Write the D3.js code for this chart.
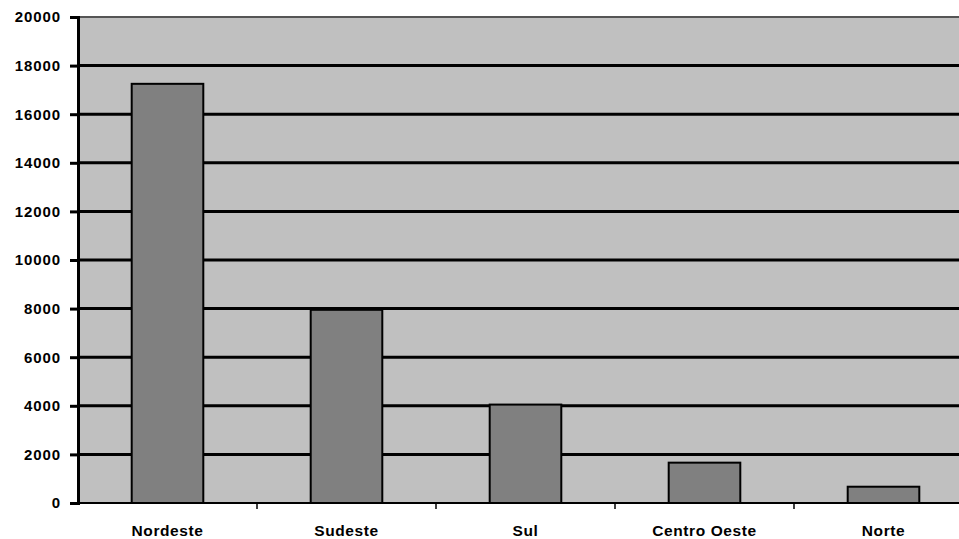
<!DOCTYPE html>
<html>
<head>
<meta charset="utf-8">
<script src="https://cdn.jsdelivr.net/npm/d3@7/dist/d3.min.js"></script>
<style>
  html, body { margin: 0; padding: 0; background: #fff; }
  svg { display: block; }
  text { font-family: "Liberation Sans", Arial, sans-serif; font-weight: bold; fill: #000; }
</style>
</head>
<body>
<svg id="chart" width="959" height="539"></svg>
<script>
// Regional totals
const categories = ["Nordeste", "Sudeste", "Sul", "Centro Oeste", "Norte"];
const values = [17250, 7950, 4050, 1660, 670];
const yTicks = [0, 2000, 4000, 6000, 8000, 10000, 12000, 14000, 16000, 18000, 20000];

(function () {
  const svg = d3.select("#chart");
  const plotLeft = 78, plotTop = 17, plotBottom = 503, bandW = 179;
  const plotRight = plotLeft + bandW * categories.length;

  const x = d3.scaleBand().domain(categories).range([plotLeft, plotRight]).paddingInner(0.6).paddingOuter(0.3);
  const xb = d3.scaleBand().domain(categories).range([plotLeft, plotRight]);
  const y = d3.scaleLinear().domain([0, 20000]).range([plotBottom, plotTop]);

  // plot area
  svg.append("rect").attr("x", plotLeft).attr("y", plotTop)
    .attr("width", plotRight - plotLeft).attr("height", plotBottom - plotTop)
    .attr("fill", "#c0c0c0");

  // gridlines
  svg.append("g").selectAll("line").data(yTicks.filter(d => d > 0 && d < 20000)).join("line")
    .attr("x1", plotLeft).attr("x2", plotRight)
    .attr("y1", d => y(d)).attr("y2", d => y(d))
    .attr("stroke", "#000").attr("stroke-width", 3);

  // top frame line
  svg.append("line").attr("x1", plotLeft).attr("x2", plotRight).attr("y1", plotTop).attr("y2", plotTop)
    .attr("stroke", "#555").attr("stroke-width", 2);

  // bars
  svg.append("g").selectAll("rect").data(categories).join("rect")
    .attr("x", d => x(d)).attr("width", x.bandwidth())
    .attr("y", (d, i) => y(values[i])).attr("height", (d, i) => plotBottom - y(values[i]))
    .attr("fill", "#808080").attr("stroke", "#000").attr("stroke-width", 2);

  // y axis
  const yAxis = svg.append("g").attr("transform", `translate(${plotLeft},0)`)
    .call(d3.axisLeft(y).tickValues(yTicks).tickSize(8).tickPadding(9).tickFormat(d3.format("d")));
  yAxis.select(".domain").attr("stroke", "#000").attr("stroke-width", 3);
  yAxis.selectAll(".tick line").attr("stroke", "#000").attr("stroke-width", 3);
  yAxis.selectAll("text").style("font-size", "15px").style("letter-spacing", "0.9px")
    .style("font-family", "'Liberation Sans', Arial, sans-serif").style("font-weight", "bold");

  // x axis
  const xAxis = svg.append("g").attr("transform", `translate(0,${plotBottom})`)
    .call(d3.axisBottom(xb).tickSize(0).tickPadding(22));
  xAxis.select(".domain").remove();
  xAxis.selectAll("text").style("font-size", "15.5px").style("letter-spacing", "0.6px")
    .style("font-family", "'Liberation Sans', Arial, sans-serif").style("font-weight", "bold");
  svg.append("line").attr("x1", plotLeft).attr("x2", plotRight).attr("y1", plotBottom).attr("y2", plotBottom)
    .attr("stroke", "#000").attr("stroke-width", 2);
  // category separators
  svg.append("g").selectAll("line").data(categories.slice(1)).join("line")
    .attr("x1", d => xb(d)).attr("x2", d => xb(d))
    .attr("y1", plotBottom).attr("y2", plotBottom + 6)
    .attr("stroke", "#000").attr("stroke-width", 1.5);
})();
</script>
</body>
</html>
